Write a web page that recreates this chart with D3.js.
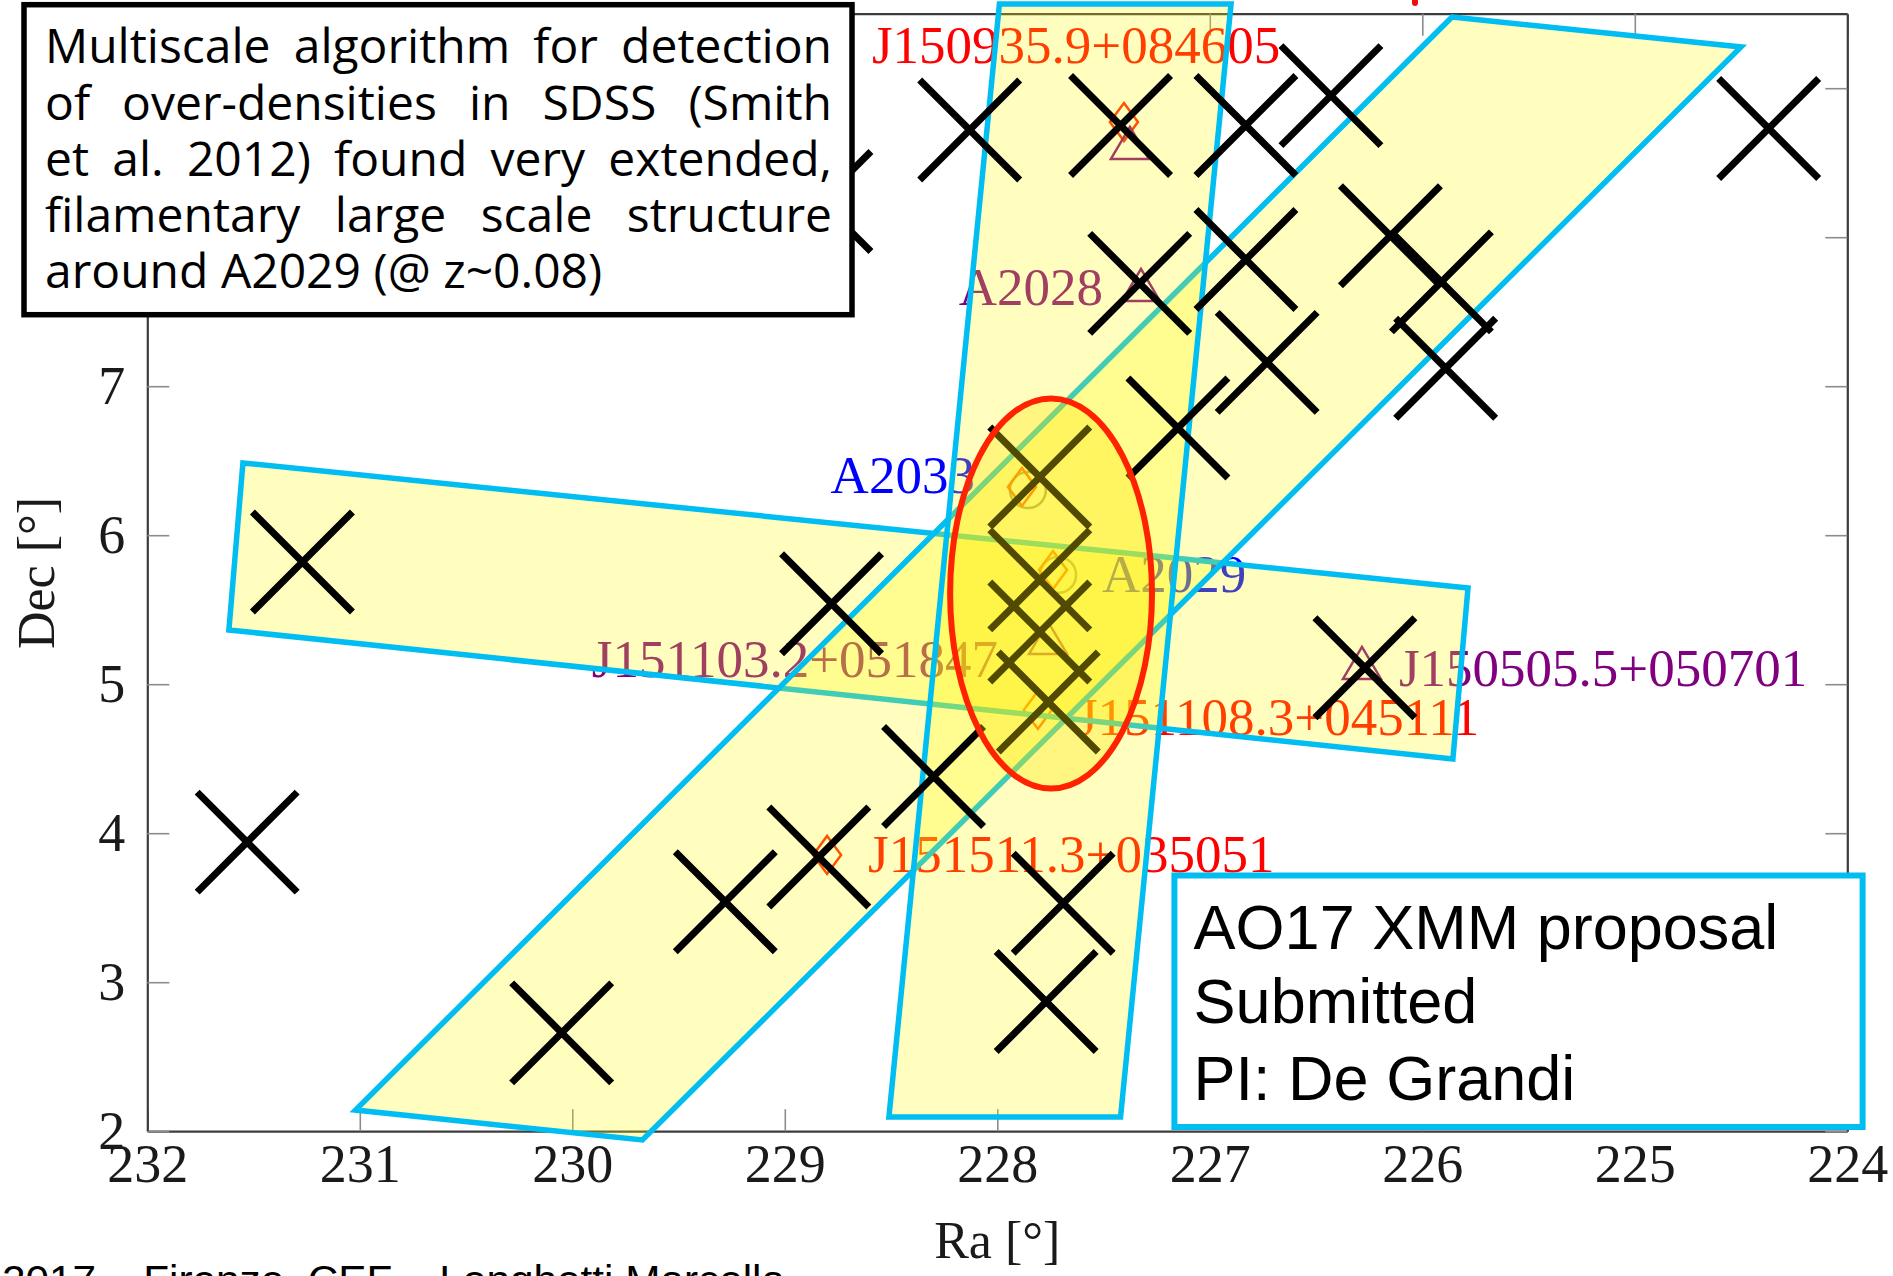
<!DOCTYPE html>
<html><head><meta charset="utf-8">
<script src="https://cdn.jsdelivr.net/npm/d3@7"></script>
<style>
html,body{margin:0;padding:0;background:#fff;overflow:hidden}
svg{display:block}
</style></head><body>
<svg id="chart" width="1893" height="1276"></svg>
<script>
// ================= DATA =================
const raTicks = [232, 231, 230, 229, 228, 227, 226, 225, 224];
const decTicks = [2, 3, 4, 5, 6, 7, 8, 9];
const decTicksHidden = [8, 9];          // labels covered by the note box
const raDomain = [232, 224];
const decDomain = [2, 9.5];

// Over-density detections (crosses): Ra, Dec
const detRa  = [231.27, 231.53, 228.78, 230.05, 229.28, 228.84, 228.30, 227.69, 227.77,
                228.13, 227.42, 226.83, 226.43, 224.37, 227.33, 226.83, 226.15, 225.91,
                225.89, 226.73, 227.15, 226.27, 228.83, 227.80, 227.80, 227.80, 227.76];
const detDec = [5.82, 3.94, 5.54, 2.66, 3.54, 3.84, 4.38, 3.53, 2.87,
                8.72, 8.75, 8.75, 8.95, 8.73, 7.69, 7.85, 8.01, 7.70,
                7.12, 7.16, 6.72, 5.11, 8.24, 6.39, 5.70, 5.35, 4.88];

// Known clusters
const clusterNames = ["J150935.9+084605", "A2028", "A2033", "A2029",
                      "J151103.2+051847", "J151108.3+045111", "J150505.5+050701", "J151511.3+035051"];
const clusterRa   = [227.404, 227.324, 227.856, 227.714, 227.761, 227.809, 226.284, 228.801];
const clusterDec  = [8.773, 7.666, 6.303, 5.733, 5.297, 4.827, 5.129, 3.854];
const clusterType = ["diamond", "triangle", "circle", "circle", "triangle", "diamond", "triangle", "diamond"];

// Additional catalogue markers (no label)
const extraRa   = [227.376, 227.884, 227.738];
const extraDec  = [8.619, 6.324, 5.766];
const extraType = ["triangle", "diamond", "diamond"];

// Filament bands (corners, Ra/Dec)
const bandHorizontal = [[231.55, 6.485], [225.785, 5.646], [225.856, 4.498], [231.616, 5.364]];
const bandDiagonal   = [[225.86, 9.478], [224.50, 9.277], [229.67, 1.941], [231.02, 2.142]];
const bandVertical   = [[227.99, 9.565], [226.90, 9.565], [227.42, 2.095], [228.51, 2.095]];

// Core region ellipse: centre (Ra, Dec) and semi-axes (deg)
const ellipseCenter = [227.747, 5.609];
const ellipseRadii  = [0.475, 1.309];

const noteLines = ["Multiscale algorithm for detection",
                   "of over-densities in SDSS (Smith",
                   "et al. 2012) found very extended,",
                   "filamentary large scale structure",
                   "around A2029 (@ z~0.08)"];
const proposalLines = ["AO17 XMM proposal", "Submitted", "PI: De Grandi"];
const footerText = "2017 \u2013 Firenze, CEF \u2013 Longhetti Marcella";

// ================= DRAW =================
const svg = d3.select("#chart");
svg.append("rect").attr("width", 1893).attr("height", 1276).attr("fill", "#fff");

const x = d3.scaleLinear().domain(raDomain).range([147.3, 1847.3]);
const y = d3.scaleLinear().domain(decDomain).range([1131.2, 13.7]);

const SERIF = "'Liberation Serif', 'DejaVu Serif', serif";
const SANS = "'Liberation Sans', Arial, sans-serif";

function styleAxis(g) {
  g.select(".domain").attr("stroke", "#3c3c3c").attr("stroke-width", 2.2);
  g.selectAll(".tick line").attr("stroke", "#8c8c8c").attr("stroke-width", 1.6);
  g.selectAll(".tick text").attr("font-family", SERIF).attr("font-size", 54).attr("fill", "#1a1a1a");
}
const axes = svg.append("g");
axes.append("g").attr("transform", `translate(0,${y(decDomain[0])})`)
  .call(d3.axisBottom(x).tickValues(raTicks).tickSize(-22).tickSizeOuter(0).tickPadding(12))
  .call(styleAxis);
axes.append("g").attr("transform", `translate(0,${y(decDomain[1])})`)
  .call(d3.axisTop(x).tickValues(raTicks).tickSize(-22).tickSizeOuter(0).tickFormat(() => ""))
  .call(styleAxis);
axes.append("g").attr("transform", `translate(${x(raDomain[0])},0)`)
  .call(d3.axisLeft(y).tickValues(decTicks).tickSize(-22).tickSizeOuter(0).tickPadding(22)
        .tickFormat(d => decTicksHidden.includes(d) ? "" : String(d)))
  .call(styleAxis);
axes.append("g").attr("transform", `translate(${x(raDomain[1])},0)`)
  .call(d3.axisRight(y).tickValues(decTicks).tickSize(-22).tickSizeOuter(0).tickFormat(() => ""))
  .call(styleAxis);

svg.append("text").attr("transform", "translate(53.6,573) rotate(-90)")
  .attr("text-anchor", "middle").attr("font-family", SERIF).attr("font-size", 52)
  .attr("fill", "#1a1a1a").text("Dec [\u00B0]");
svg.append("text").attr("x", (x(raDomain[0]) + x(raDomain[1])) / 2).attr("y", 1258)
  .attr("text-anchor", "middle").attr("font-family", SERIF).attr("font-size", 52)
  .attr("fill", "#1a1a1a").text("Ra [\u00B0]");

// ---- cluster markers and labels ----
const markerColor = {diamond: "#ff1a00", triangle: "#800080", circle: "#808080"};
const labelColor  = {diamond: "#ff0000", triangle: "#800080", circle: "#0000ff"};
function markerPath(type, cx, cy) {
  if (type === "diamond") return `M${cx},${cy-19}L${cx+14},${cy}L${cx},${cy+19}L${cx-14},${cy}Z`;
  return `M${cx},${cy-18}L${cx+19},${cy+14}L${cx-19},${cy+14}Z`;
}
const mg = svg.append("g");
function drawMarker(type, ra, dec) {
  const cx = x(ra), cy = y(dec);
  if (type === "circle") {
    mg.append("circle").attr("cx", cx).attr("cy", cy).attr("r", 18)
      .attr("fill", "none").attr("stroke", markerColor[type]).attr("stroke-width", 2.5);
  } else {
    mg.append("path").attr("d", markerPath(type, cx, cy))
      .attr("fill", "none").attr("stroke", markerColor[type]).attr("stroke-width", 2.5);
  }
}
clusterNames.forEach((n, i) => drawMarker(clusterType[i], clusterRa[i], clusterDec[i]));
extraRa.forEach((r, i) => drawMarker(extraType[i], r, extraDec[i]));

// label placement (pixel offsets from marker)
const labelOffset = [
  {dx: -252, dy: -59, a: "start"},
  {dx: -38, dy: 18, a: "end"},
  {dx: -53, dy: 3, a: "end"},
  {dx: 44, dy: 17, a: "start"},
  {dx: -50, dy: 37, a: "end"},
  {dx: 39, dy: 25, a: "start"},
  {dx: 37, dy: 21, a: "start"},
  {dx: 41, dy: 17, a: "start"}
];
mg.selectAll("text.lbl").data(clusterNames).join("text").attr("class", "lbl")
  .attr("x", (d, i) => x(clusterRa[i]) + labelOffset[i].dx)
  .attr("y", (d, i) => y(clusterDec[i]) + labelOffset[i].dy)
  .attr("text-anchor", (d, i) => labelOffset[i].a)
  .attr("font-family", SERIF).attr("font-size", 53)
  .attr("fill", (d, i) => labelColor[clusterType[i]])
  .text(d => d);

// ---- bands ----
const bandLine = d3.line().x(d => x(d[0])).y(d => y(d[1]));
const bg = svg.append("g");
[bandHorizontal, bandDiagonal, bandVertical].forEach(b => {
  bg.append("path").attr("d", bandLine(b) + "Z")
    .attr("fill", "rgb(255,250,0)").attr("fill-opacity", 0.25)
    .attr("stroke", "#00bdf2").attr("stroke-width", 5.5).attr("stroke-linejoin", "miter");
});

// ---- crosses ----
const H = 50;
svg.append("g").selectAll("path").data(detRa).join("path")
  .attr("d", (d, i) => {
    const cx = x(d), cy = y(detDec[i]);
    return `M${cx-H},${cy-H}L${cx+H},${cy+H}M${cx+H},${cy-H}L${cx-H},${cy+H}`;
  })
  .attr("stroke", "#000").attr("stroke-width", 7).attr("stroke-linecap", "butt").attr("fill", "none");

// ---- core ellipse ----
const ecx = x(ellipseCenter[0]), ecy = y(ellipseCenter[1]);
svg.append("ellipse").attr("cx", ecx).attr("cy", ecy)
  .attr("rx", Math.abs(x(ellipseCenter[0] - ellipseRadii[0]) - ecx))
  .attr("ry", Math.abs(y(ellipseCenter[1] + ellipseRadii[1]) - ecy))
  .attr("fill", "rgb(255,230,0)").attr("fill-opacity", 0.32)
  .attr("stroke", "#ff2200").attr("stroke-width", 6);

// small red mark at top edge
svg.append("rect").attr("x", 1412).attr("y", -4).attr("width", 6).attr("height", 10).attr("rx", 3).attr("fill", "#ee1111");

// ---- note box (top left), justified lines ----
const note = svg.append("g");
note.append("rect").attr("x", 24).attr("y", 4.7).attr("width", 828).attr("height", 310)
  .attr("fill", "#fff").attr("stroke", "#000").attr("stroke-width", 5.5);
const noteFont = "'Open Sans', 'Noto Sans', sans-serif";
const noteLeft = 45, noteRight = 832, noteBase = 63.3, noteStep = 56.25;
noteLines.forEach((line, li) => {
  const t = note.append("text").attr("x", noteLeft).attr("y", noteBase + li * noteStep)
    .attr("font-family", noteFont).attr("font-size", 48).attr("fill", "#000").text(line);
  if (li < noteLines.length - 1) {
    const nat = t.node().getComputedTextLength();
    const spaces = line.split(" ").length - 1;
    t.attr("word-spacing", (noteRight - noteLeft - nat) / spaces);
  }
});

// ---- proposal box (bottom right) ----
const prop = svg.append("g");
prop.append("rect").attr("x", 1174.4).attr("y", 875.5).attr("width", 688.2).attr("height", 251.5)
  .attr("fill", "#fff").attr("stroke", "#00bdf2").attr("stroke-width", 6);
const propBase = [949, 1023.4, 1100];
proposalLines.forEach((t, i) => {
  prop.append("text").attr("x", 1193.6).attr("y", propBase[i]).attr("font-family", SANS)
    .attr("font-size", 63).attr("fill", "#000").text(t);
});

// ---- footer (cut by the slide edge, as in the original) ----
svg.append("text").attr("x", 2).attr("y", 1294).attr("font-family", SANS).attr("font-size", 40)
  .attr("textLength", 783).attr("lengthAdjust", "spacingAndGlyphs").attr("fill", "#000").text(footerText);
</script>
</body></html>
